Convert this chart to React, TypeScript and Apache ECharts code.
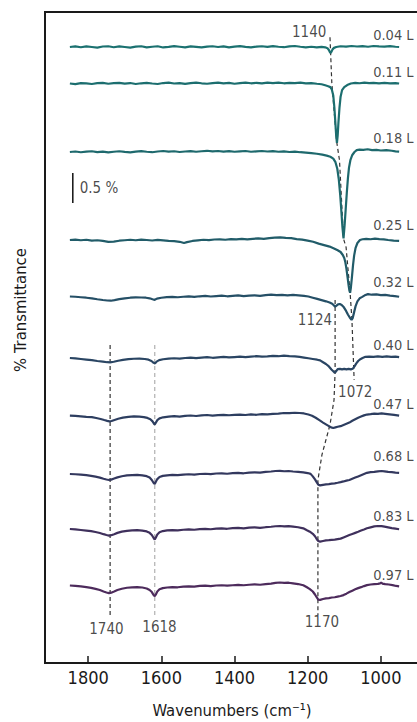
import React, { useEffect, useRef } from "react";
import * as echarts from "echarts";

const FONT = "'DejaVu Sans Condensed', 'DejaVu Sans', sans-serif";

const doseLabels = ["0.04 L", "0.11 L", "0.18 L", "0.25 L", "0.32 L", "0.40 L", "0.47 L", "0.68 L", "0.83 L", "0.97 L"];
const baselines = [10.267, 9.658, 8.517, 7.05, 6.108, 5.083, 4.117, 3.15, 2.233, 1.292];
const labelLevels = [10.467, 9.85, 8.758, 7.292, 6.35, 5.308, 4.325, 3.442, 2.442, 1.467];
const labelW = 1021;
const colors = ["#1b7170", "#1c6e6f", "#1e696d", "#215c69", "#254f66", "#2a4563", "#2d3e60", "#33385e", "#3f305c", "#4d2b5c"];

const s004: number[][] = [[1850,0],[1835,0.01],[1820,-0.005],[1805,0.01],[1790,0],[1775,-0.01],[1760,0.008],[1745,0.012],[1730,-0.004],[1715,0.01],[1700,0],[1685,-0.01],[1670,0.006],[1655,0.012],[1640,-0.006],[1625,0.004],[1610,0.012],[1595,-0.008],[1580,0.002],[1565,0.014],[1550,0.004],[1535,-0.006],[1520,0.01],[1505,0.002],[1490,-0.008],[1475,0.006],[1460,0.012],[1445,0],[1430,0.01],[1415,-0.006],[1400,0.006],[1385,0.014],[1370,0.002],[1355,-0.008],[1340,0.006],[1325,0.012],[1310,0.002],[1295,0.014],[1280,0.004],[1265,-0.004],[1250,0.01],[1235,0.016],[1220,0.004],[1205,-0.006],[1190,0.004],[1175,-0.008],[1162,0.002],[1152,-0.006],[1146,-0.02],[1142,-0.05],[1139,-0.09],[1137,-0.1],[1135,-0.08],[1132,-0.04],[1128,-0.015],[1122,0],[1110,0.012],[1095,0.006],[1080,0.016],[1065,0.008],[1050,0.014],[1035,0.004],[1020,0.016],[1005,0.01],[990,0.006],[975,0.014],[960,0.004],[950,0]];
const s011: number[][] = [[1850,0],[1835,-0.01],[1820,0.006],[1805,0.002],[1790,-0.008],[1775,0.006],[1760,0.012],[1745,-0.004],[1730,0.006],[1715,0.012],[1700,-0.002],[1685,0.008],[1670,-0.008],[1655,0.004],[1640,0.012],[1625,0],[1610,-0.008],[1595,0.008],[1580,0.014],[1565,0],[1550,0.008],[1535,-0.006],[1520,0.006],[1505,0.014],[1490,0.004],[1475,-0.004],[1460,0.008],[1445,0.014],[1430,0.002],[1415,0.01],[1400,-0.004],[1385,0.008],[1370,0.016],[1355,0.004],[1340,0.012],[1325,0.002],[1310,0.014],[1295,0.006],[1280,0.016],[1265,0.004],[1250,0.012],[1235,0.006],[1220,0.014],[1205,0.002],[1190,0.008],[1175,-0.004],[1162,-0.012],[1152,-0.03],[1144,-0.045],[1138,-0.06],[1134,-0.1],[1130,-0.2],[1127,-0.4],[1124,-0.68],[1122,-0.87],[1120,-0.99],[1118,-0.87],[1116,-0.66],[1113,-0.4],[1110,-0.22],[1106,-0.11],[1100,-0.06],[1092,-0.025],[1082,0],[1070,0.012],[1058,0.004],[1045,0.014],[1032,0.006],[1020,0.012],[1005,0.004],[990,0.01],[975,0.002],[960,0.008],[950,0]];
const s018: number[][] = [[1850,0],[1835,0.008],[1820,-0.004],[1805,0.006],[1790,0.012],[1775,-0.002],[1760,0.006],[1745,-0.008],[1730,0.004],[1715,0.012],[1700,0.002],[1685,-0.006],[1670,0.006],[1655,0.014],[1640,0.004],[1625,-0.004],[1610,0.008],[1595,0.016],[1580,0.006],[1565,0.012],[1550,0],[1535,0.008],[1520,0.014],[1505,0.004],[1490,0.012],[1475,0.02],[1460,0.01],[1445,0.016],[1430,0.006],[1415,0.014],[1400,0.004],[1385,0.01],[1370,0.016],[1355,0.004],[1340,0.01],[1325,0.016],[1310,0.008],[1295,0.014],[1280,0.004],[1265,0.01],[1250,0],[1235,0.006],[1220,-0.004],[1205,-0.012],[1190,-0.02],[1175,-0.03],[1160,-0.045],[1148,-0.06],[1138,-0.08],[1130,-0.11],[1124,-0.17],[1119,-0.28],[1115,-0.45],[1111,-0.72],[1108,-0.98],[1105,-1.25],[1102,-1.44],[1099,-1.22],[1096,-0.95],[1093,-0.68],[1090,-0.44],[1087,-0.26],[1083,-0.13],[1078,-0.05],[1072,0],[1066,0.03],[1058,0.04],[1048,0.035],[1036,0.045],[1024,0.03],[1012,0.035],[1000,0.025],[985,0.03],[970,0.02],[960,0.01],[950,0.005]];
const s025: number[][] = [[1850,0],[1835,0.006],[1820,-0.004],[1805,0.004],[1790,-0.01],[1775,-0.004],[1760,-0.016],[1745,-0.03],[1730,-0.026],[1715,-0.012],[1700,-0.004],[1685,0.004],[1670,-0.004],[1655,0.006],[1640,0],[1625,-0.008],[1610,0.002],[1595,-0.006],[1580,-0.014],[1565,-0.02],[1550,-0.03],[1538,-0.05],[1530,-0.035],[1515,-0.016],[1500,-0.006],[1485,0.004],[1470,-0.002],[1455,0.008],[1440,0.012],[1425,0.004],[1410,0.014],[1395,0.01],[1380,0.018],[1365,0.012],[1350,0.02],[1335,0.026],[1320,0.02],[1305,0.032],[1290,0.04],[1275,0.045],[1260,0.036],[1245,0.03],[1230,0.016],[1215,0.006],[1200,-0.01],[1185,-0.03],[1170,-0.06],[1155,-0.085],[1140,-0.11],[1128,-0.14],[1118,-0.17],[1110,-0.2],[1104,-0.25],[1100,-0.3],[1097,-0.37],[1094,-0.48],[1091,-0.62],[1088,-0.76],[1086,-0.84],[1084,-0.88],[1082,-0.8],[1079,-0.62],[1076,-0.42],[1073,-0.26],[1069,-0.13],[1064,-0.05],[1057,0],[1050,0.012],[1040,0.02],[1028,0.012],[1016,0.024],[1004,0.016],[992,0.01],[980,0],[965,-0.01],[950,-0.016]];
const s032: number[][] = [[1850,0],[1835,-0.004],[1820,-0.012],[1805,-0.02],[1790,-0.03],[1775,-0.045],[1760,-0.058],[1748,-0.066],[1738,-0.07],[1728,-0.06],[1715,-0.044],[1700,-0.03],[1685,-0.02],[1670,-0.014],[1655,-0.016],[1642,-0.02],[1632,-0.03],[1624,-0.045],[1618,-0.055],[1612,-0.035],[1600,-0.02],[1585,-0.01],[1570,-0.006],[1555,-0.012],[1540,-0.004],[1525,0.002],[1510,-0.006],[1495,0.004],[1480,0.01],[1465,0],[1450,0.008],[1435,0.014],[1420,0.004],[1405,0.012],[1390,0.018],[1375,0.008],[1360,0.014],[1345,0.02],[1330,0.012],[1315,0.024],[1300,0.03],[1285,0.022],[1270,0.028],[1255,0.02],[1240,0.026],[1225,0.018],[1210,0.01],[1198,0],[1186,-0.02],[1174,-0.04],[1162,-0.06],[1150,-0.08],[1140,-0.1],[1133,-0.12],[1128,-0.15],[1125,-0.17],[1122,-0.155],[1117,-0.13],[1112,-0.125],[1107,-0.14],[1101,-0.18],[1095,-0.24],[1090,-0.3],[1085,-0.35],[1080,-0.39],[1077,-0.36],[1073,-0.26],[1069,-0.16],[1064,-0.08],[1058,-0.03],[1052,-0.01],[1044,0.02],[1035,0.04],[1025,0.03],[1012,0.035],[1000,0.022],[988,0.026],[975,0.014],[962,0.008],[950,-0.004]];
const s040: number[][] = [[1850,0],[1835,-0.006],[1820,-0.016],[1805,-0.026],[1790,-0.036],[1775,-0.05],[1760,-0.06],[1748,-0.07],[1740,-0.072],[1730,-0.062],[1718,-0.045],[1705,-0.03],[1690,-0.018],[1675,-0.012],[1660,-0.01],[1645,-0.016],[1635,-0.028],[1627,-0.05],[1621,-0.08],[1617,-0.09],[1613,-0.06],[1606,-0.035],[1595,-0.02],[1580,-0.01],[1565,-0.004],[1550,-0.01],[1535,0],[1520,0.006],[1505,-0.002],[1490,0.008],[1475,0.014],[1460,0.004],[1445,0.012],[1430,0.018],[1415,0.01],[1400,0.016],[1385,0.022],[1370,0.014],[1355,0.024],[1340,0.03],[1325,0.022],[1310,0.028],[1295,0.036],[1280,0.03],[1265,0.04],[1250,0.032],[1235,0.026],[1222,0.018],[1210,0.008],[1198,-0.004],[1186,-0.016],[1174,-0.028],[1166,-0.04],[1158,-0.07],[1150,-0.1],[1142,-0.14],[1135,-0.19],[1130,-0.22],[1126,-0.245],[1122,-0.22],[1118,-0.185],[1112,-0.18],[1106,-0.19],[1100,-0.18],[1094,-0.19],[1088,-0.18],[1082,-0.19],[1077,-0.18],[1072,-0.14],[1067,-0.09],[1062,-0.05],[1056,-0.02],[1050,0],[1042,0.02],[1032,0.024],[1020,0.018],[1008,0.026],[996,0.02],[984,0.028],[972,0.02],[960,0.024],[950,0.016]];
const s047: number[][] = [[1850,0.006],[1835,0.002],[1820,-0.006],[1805,-0.014],[1790,-0.02],[1778,-0.034],[1766,-0.05],[1756,-0.068],[1748,-0.082],[1742,-0.09],[1736,-0.084],[1728,-0.066],[1718,-0.046],[1705,-0.028],[1690,-0.016],[1675,-0.008],[1660,-0.01],[1648,-0.018],[1638,-0.032],[1630,-0.055],[1624,-0.09],[1620,-0.13],[1618,-0.14],[1615,-0.11],[1611,-0.07],[1605,-0.04],[1595,-0.022],[1580,-0.012],[1565,-0.004],[1550,-0.01],[1535,0.002],[1520,0.008],[1505,0],[1490,0.01],[1475,0.016],[1460,0.006],[1445,0.014],[1430,0.02],[1415,0.012],[1400,0.018],[1385,0.024],[1370,0.016],[1355,0.026],[1340,0.02],[1325,0.03],[1310,0.026],[1295,0.034],[1280,0.04],[1265,0.05],[1250,0.046],[1235,0.054],[1222,0.05],[1210,0.042],[1198,0.024],[1188,0.004],[1178,-0.03],[1168,-0.07],[1158,-0.11],[1150,-0.14],[1142,-0.17],[1136,-0.19],[1130,-0.2],[1124,-0.19],[1118,-0.18],[1110,-0.17],[1102,-0.15],[1094,-0.13],[1086,-0.11],[1078,-0.08],[1070,-0.055],[1062,-0.03],[1054,-0.01],[1046,0.01],[1038,0.024],[1028,0.03],[1018,0.038],[1008,0.034],[998,0.042],[988,0.036],[976,0.028],[964,0.018],[950,0.006]];
const s068: number[][] = [[1850,0],[1835,-0.004],[1820,-0.012],[1805,-0.02],[1792,-0.03],[1780,-0.045],[1768,-0.06],[1758,-0.08],[1750,-0.092],[1743,-0.1],[1737,-0.094],[1729,-0.076],[1720,-0.056],[1708,-0.038],[1694,-0.024],[1680,-0.018],[1666,-0.016],[1652,-0.022],[1640,-0.036],[1632,-0.06],[1626,-0.1],[1621,-0.15],[1618,-0.168],[1615,-0.13],[1611,-0.085],[1605,-0.05],[1596,-0.032],[1584,-0.022],[1570,-0.016],[1555,-0.02],[1540,-0.01],[1525,-0.004],[1510,-0.01],[1495,0],[1480,0.004],[1465,-0.002],[1450,0.008],[1435,0.012],[1420,0.004],[1405,0.014],[1390,0.018],[1375,0.012],[1360,0.022],[1345,0.028],[1330,0.022],[1315,0.034],[1300,0.042],[1288,0.05],[1276,0.052],[1264,0.046],[1252,0.05],[1240,0.042],[1226,0.036],[1212,0.028],[1200,0.016],[1192,0.002],[1186,-0.04],[1180,-0.09],[1175,-0.14],[1171,-0.18],[1166,-0.19],[1158,-0.18],[1150,-0.174],[1142,-0.168],[1134,-0.16],[1126,-0.155],[1118,-0.146],[1110,-0.136],[1102,-0.124],[1094,-0.11],[1086,-0.1],[1078,-0.08],[1070,-0.06],[1062,-0.04],[1054,-0.02],[1046,0],[1038,0.02],[1028,0.03],[1018,0.036],[1008,0.044],[998,0.05],[990,0.044],[980,0.036],[970,0.03],[960,0.024],[950,0.02]];
const s083: number[][] = [[1850,0],[1835,-0.006],[1820,-0.016],[1805,-0.026],[1792,-0.036],[1780,-0.05],[1768,-0.066],[1758,-0.086],[1750,-0.1],[1743,-0.11],[1737,-0.104],[1729,-0.086],[1720,-0.064],[1708,-0.044],[1694,-0.03],[1680,-0.022],[1666,-0.02],[1652,-0.026],[1640,-0.04],[1632,-0.064],[1626,-0.1],[1621,-0.15],[1618,-0.175],[1615,-0.14],[1611,-0.09],[1605,-0.054],[1596,-0.034],[1584,-0.024],[1570,-0.018],[1555,-0.022],[1540,-0.012],[1525,-0.006],[1510,-0.012],[1495,-0.002],[1480,0.004],[1465,-0.004],[1450,0.006],[1435,0.012],[1420,0.004],[1405,0.014],[1390,0.02],[1375,0.012],[1360,0.022],[1345,0.028],[1330,0.02],[1315,0.03],[1300,0.038],[1288,0.046],[1276,0.05],[1264,0.044],[1252,0.048],[1240,0.04],[1226,0.03],[1212,0.012],[1202,-0.02],[1194,-0.045],[1186,-0.08],[1180,-0.12],[1175,-0.17],[1171,-0.2],[1166,-0.21],[1158,-0.2],[1150,-0.19],[1142,-0.186],[1134,-0.18],[1126,-0.176],[1118,-0.168],[1110,-0.16],[1102,-0.14],[1094,-0.12],[1086,-0.1],[1078,-0.082],[1070,-0.064],[1062,-0.046],[1054,-0.026],[1046,-0.008],[1038,0.012],[1028,0.028],[1018,0.044],[1008,0.05],[998,0.048],[990,0.04],[980,0.028],[970,0.016],[960,0.006],[950,-0.004]];
const s097: number[][] = [[1850,0],[1835,-0.006],[1820,-0.016],[1805,-0.028],[1792,-0.04],[1780,-0.056],[1768,-0.076],[1758,-0.1],[1750,-0.116],[1743,-0.128],[1737,-0.12],[1729,-0.1],[1720,-0.076],[1708,-0.054],[1694,-0.038],[1680,-0.03],[1666,-0.028],[1652,-0.034],[1640,-0.05],[1632,-0.075],[1626,-0.11],[1621,-0.16],[1618,-0.18],[1615,-0.15],[1611,-0.1],[1605,-0.064],[1596,-0.044],[1584,-0.034],[1570,-0.028],[1555,-0.03],[1540,-0.02],[1525,-0.014],[1510,-0.018],[1495,-0.008],[1480,-0.004],[1465,-0.01],[1450,0],[1435,0.004],[1420,-0.004],[1405,0.004],[1390,0.01],[1375,0.004],[1360,0.012],[1345,0.018],[1330,0.012],[1315,0.024],[1300,0.032],[1288,0.042],[1276,0.05],[1264,0.044],[1252,0.046],[1240,0.036],[1226,0.024],[1212,0.004],[1202,-0.03],[1194,-0.06],[1186,-0.1],[1180,-0.15],[1175,-0.2],[1171,-0.235],[1166,-0.24],[1158,-0.226],[1150,-0.216],[1142,-0.21],[1134,-0.2],[1126,-0.196],[1118,-0.186],[1110,-0.176],[1102,-0.16],[1094,-0.136],[1086,-0.11],[1078,-0.086],[1070,-0.064],[1062,-0.044],[1054,-0.028],[1046,-0.01],[1038,0.006],[1028,0.016],[1018,0.022],[1008,0.026],[1002,0.034],[999,0.05],[996,0.032],[988,0.022],[978,0.016],[968,0.006],[958,-0.008],[950,-0.016]];
const spectra = [s004, s011, s018, s025, s032, s040, s047, s068, s083, s097];

const guide1140: number[][] = [[1139,10.43],[1134,9.67],[1121,8.7],[1113,8.38],[1102,7.07],[1095,6.93],[1084,6.17],[1079,5.72],[1073,4.72]];
const guide1124: number[][] = [[1125,6.05],[1125,4.85],[1128,4.38],[1139,3.97],[1161,3.47],[1172,3.05],[1172,0.8]];
const guide1740: number[][] = [[1740,5.3],[1740,0.8]];
const guide1618: number[][] = [[1618,5.3],[1618,0.8]];
const scaleBar: number[][] = [[1842,7.667],[1842,8.167]];

const annotationTexts = ["1140", "1124", "1072", "1740", "1618", "1170"];
const annotationW = [1196, 1180, 1070, 1750, 1605, 1161];
const annotationV = [10.525, 5.717, 4.525, 0.567, 0.6, 0.683];

const xTickValues = [1800, 1600, 1400, 1200, 1000];

export default function App() {
  const ref = useRef<HTMLDivElement>(null);
  useEffect(() => {
    if (!ref.current) return;
    const chart = echarts.init(ref.current, undefined, { renderer: "svg" });
    const textColor = "#1a1a1a";
    const lineSeries = spectra.map((s, i) => ({
      type: "line",
      data: s.map(([w, d]) => [w, baselines[i] + d]),
      showSymbol: false,
      symbol: "none",
      silent: true,
      z: 4,
      lineStyle: { color: colors[i], width: 2.2 },
    }));
    const guide = (data: number[][], color: string) => ({
      type: "line",
      data,
      showSymbol: false,
      symbol: "none",
      silent: true,
      z: 2,
      lineStyle: { color, width: 1.2, type: [4, 3] },
    });
    const textLabels = (items: { name: string; value: number[] }[], align: string, size: number) => ({
      type: "scatter",
      symbolSize: 0,
      silent: true,
      itemStyle: { color: "transparent" },
      data: items,
      label: { show: true, position: "inside", align, formatter: "{b}", fontSize: size, color: textColor, fontFamily: FONT },
      z: 6,
    });
    chart.setOption({
      animation: false,
      grid: {
        left: 45, top: 12, width: 409, height: 651,
        show: true, borderColor: "#1a1a1a", borderWidth: 2,
        outerBoundsMode: "none", containLabel: false,
      },
      xAxis: {
        type: "value",
        inverse: true,
        min: 800,
        max: 1918,
        interval: 200,
        axisLine: { lineStyle: { color: "#1a1a1a", width: 2 } },
        axisTick: { inside: true, length: 7, lineStyle: { color: "#1a1a1a", width: 1.5 } },
        axisLabel: {
          fontSize: 18,
          color: textColor,
          fontFamily: FONT,
          margin: 5,
          formatter: (v: number) => (xTickValues.indexOf(v) >= 0 ? String(v) : ""),
        },
        splitLine: { show: false },
      },
      yAxis: {
        type: "value",
        min: 0,
        max: 10.85,
        axisLine: { show: true, lineStyle: { color: "#1a1a1a", width: 2 } },
        axisTick: { show: false },
        axisLabel: { show: false },
        splitLine: { show: false },
      },
      graphic: [
        {
          type: "text",
          x: 232,
          y: 710,
          style: { text: "Wavenumbers (cm⁻¹)", fontSize: 16.5, fontFamily: FONT, fill: textColor, align: "center", verticalAlign: "middle" },
        },
        {
          type: "text",
          x: 20,
          y: 310,
          rotation: Math.PI / 2,
          style: { text: "% Transmittance", fontSize: 16.5, fontFamily: FONT, fill: textColor, align: "center", verticalAlign: "middle" },
        },
      ],
      series: [
        guide(guide1740, "#333"),
        guide(guide1618, "#b0b0b0"),
        guide(guide1140, "#333"),
        guide(guide1124, "#333"),
        {
          type: "line",
          data: scaleBar,
          showSymbol: false,
          symbol: "none",
          silent: true,
          lineStyle: { color: "#111", width: 1.5 },
        },
        ...lineSeries,
        textLabels(annotationTexts.map((t, i) => ({ name: t, value: [annotationW[i], annotationV[i]] })), "center", 15),
        textLabels(doseLabels.map((t, i) => ({ name: t, value: [labelW, labelLevels[i]] })), "left", 14.5),
        textLabels([{ name: "0.5 %", value: [1823, 7.917] }], "left", 15),
      ],
    });
    return () => chart.dispose();
  }, []);
  return <div ref={ref} style={{ position: "absolute", left: 0, top: 0, width: 417, height: 722 }} />;
}
